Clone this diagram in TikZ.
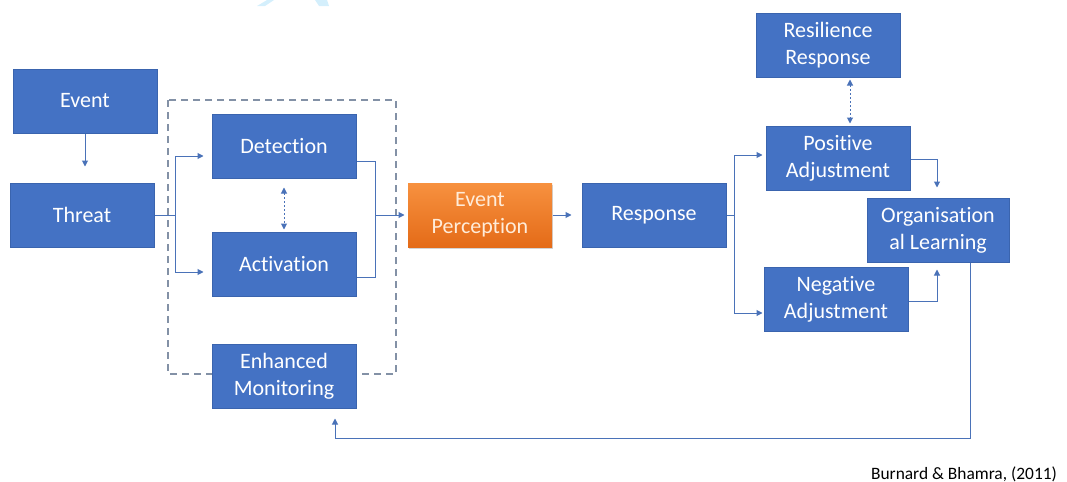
\documentclass[tikz,border=0pt]{standalone}
\usepackage{fontspec}
\setmainfont{Carlito}[Ligatures=NoCommon]
\usetikzlibrary{arrows.meta,calc,shadows}
\definecolor{boxblue}{HTML}{4472C4}
\definecolor{boxedge}{HTML}{3A64AE}
\definecolor{linkblue}{HTML}{4A72B8}
\definecolor{dashgrey}{HTML}{8391A6}
\definecolor{orangetop}{HTML}{F7913F}
\definecolor{orangebot}{HTML}{E46B18}
\definecolor{marktint}{HTML}{D4EFFC}
\begin{document}
\begin{tikzpicture}[x=0.5pt,y=-0.5pt,
  blk/.style={rectangle, fill=boxblue, draw=boxedge, line width=0.5pt, text=white, minimum width=72pt, minimum height=32pt, inner sep=0pt, align=center, font=\fontsize{11}{13.5}\selectfont},
  hotblk/.style={blk, draw=none, top color=orangetop, bottom color=orangebot, text=orange!15, drop shadow={opacity=0.35, shadow xshift=0.6pt, shadow yshift=-1pt}},
  wire/.style={draw=linkblue, line width=0.5pt},
  conn/.style={wire, -{Triangle[length=3pt,width=3pt]}},
  dotlink/.style={wire, dash pattern=on 1pt off 1pt, {Triangle[length=3pt,width=3pt]}-{Triangle[length=3pt,width=3pt]}}]
\useasboundingbox (0,0) rectangle (1067,482);
\fill [marktint] (267,0) -- (274,0) -- (265,6) -- (257,6) -- cycle;
\fill [marktint] (315,0) -- (327,0) -- (329,6) -- (319,6) -- cycle;
\draw [dashgrey, line width=1pt, dash pattern=on 3.5pt off 2.5pt] (168,100) rectangle (396,374);
\node [blk] (event) at (85,101) {Event};
\node [blk] (threat) at (82,215) {Threat};
\node [blk] (detect) at (284,146) {Detection};
\node [blk] (activ) at (284,264) {Activation};
\node [blk] (enhmon) at (284,376) {Enhanced\\Monitoring};
\node [hotblk] (evperc) at (480,215) {Event\\Perception};
\node [blk] (resp) at (654,215) {Response};
\node [blk] (resil) at (828,45) {Resilience\\Response};
\node [blk] (posadj) at (838,158) {Positive\\Adjustment};
\node [blk, minimum width=71pt] (orglearn) at (938,230) {Organisation\\al Learning};
\node [blk] (negadj) at (836,299) {Negative\\Adjustment};
\node [anchor=east, font=\fontsize{8.7}{10}\selectfont] (cite) at (1064,474) {Burnard \& Bhamra, (2011)};
\draw [conn, shorten >=8pt] (event.south) -- (event.south |- threat.north);
\coordinate (split1) at ($(threat.east)+(21,0)$);
\draw [wire] (threat.east) -- (split1);
\draw [conn, shorten >=4pt] (split1) |- ($(detect.west)+(0,10)$);
\draw [conn, shorten >=4pt] (split1) |- ($(activ.west)+(0,8)$);
\coordinate (join1) at ($(evperc.west)+(-32,0)$);
\draw [wire] ($(detect.east)+(0,15)$) -| (join1);
\draw [wire] ($(activ.east)+(0,13)$) -| (join1);
\draw [conn, shorten >=1.5pt] (join1) -- (evperc.west);
\draw [dotlink, shorten <=4.5pt, shorten >=1pt] (detect.south) -- (activ.north);
\draw [conn, shorten >=5pt] (evperc.east) -- (resp.west);
\coordinate (split2) at ($(resp.east)+(8,0)$);
\draw [wire] (resp.east) -- (split2);
\draw [conn, shorten >=1.5pt] (split2) |- ($(posadj.west)+(0,-3)$);
\draw [conn, shorten >=0.5pt] (split2) |- ($(negadj.west)+(0,14)$);
\draw [dotlink, shorten <=1pt, shorten >=1pt] ($(resil.south)+(22,0)$) -- ($(posadj.north)+(12,0)$);
\draw [conn, shorten >=5pt] ($(posadj.east)+(0,1)$) -| ($(orglearn.north)+(-1,0)$);
\draw [conn, shorten >=3.5pt] ($(negadj.east)+(0,2)$) -| ($(orglearn.south)+(-1,0)$);
\draw [conn, shorten >=5pt] ($(orglearn.south)+(32,0)$) -- ++(0,176) -| ($(enhmon.south)+(51,0)$);
\end{tikzpicture}
\end{document}
